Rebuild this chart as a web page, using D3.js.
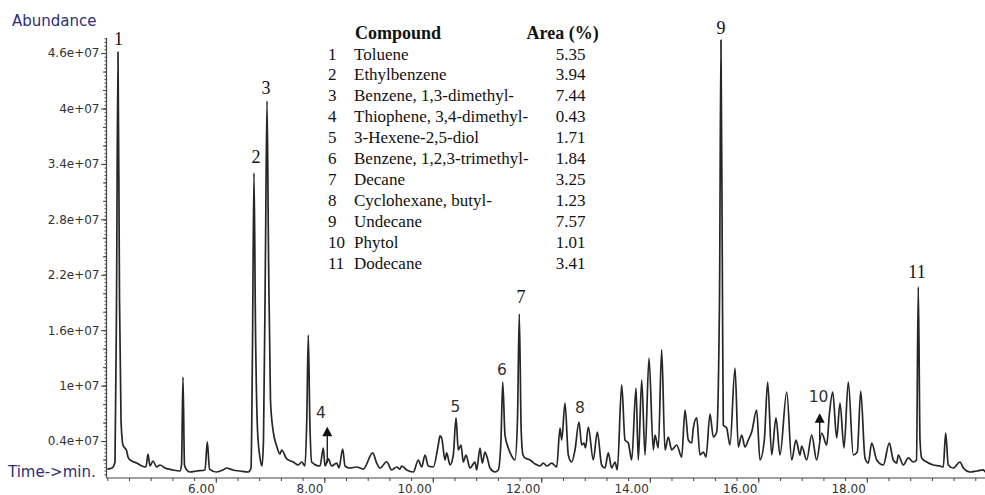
<!DOCTYPE html>
<html>
<head>
<meta charset="utf-8">
<script src="https://cdn.jsdelivr.net/npm/d3@7"></script>
<style>
  body { margin: 0; background: #fff; }
  svg { display: block; }
</style>
</head>
<body>
<svg id="chart"></svg>
<script>
// TIC chromatogram: retention time (min) / abundance (x1e6 counts)
const retentionTime = [
  4.000, 4.087, 4.142, 4.170, 4.197, 4.225, 4.253, 4.289, 4.358, 4.382,
  4.418, 4.542, 4.634, 4.713, 4.750, 4.787, 4.842, 4.911, 4.971, 5.064,
  5.211, 5.340, 5.368, 5.395, 5.423, 5.464, 5.524, 5.648, 5.801, 5.843,
  5.884, 6.017, 6.133, 6.201, 6.262, 6.317, 6.446, 6.599, 6.649, 6.676,
  6.704, 6.732, 6.769, 6.815, 6.852, 6.879, 6.916, 6.944, 6.971, 7.008,
  7.054, 7.123, 7.183, 7.215, 7.307, 7.429, 7.521, 7.583, 7.644, 7.677,
  7.705, 7.733, 7.768, 7.921, 7.982, 8.013, 8.074, 8.136, 8.229, 8.271,
  8.339, 8.382, 8.474, 8.597, 8.719, 8.892, 8.966, 9.027, 9.150, 9.242,
  9.335, 9.395, 9.427, 9.519, 9.641, 9.733, 9.795, 9.856, 9.917, 10.009,
  10.101, 10.133, 10.164, 10.225, 10.256, 10.317, 10.378, 10.428, 10.470, 10.520,
  10.562, 10.612, 10.686, 10.778, 10.809, 10.870, 10.912, 10.962, 11.005, 11.054,
  11.147, 11.207, 11.257, 11.289, 11.331, 11.392, 11.454, 11.515, 11.561, 11.594,
  11.629, 11.663, 11.700, 11.792, 11.884, 11.976, 12.037, 12.100, 12.192, 12.284,
  12.345, 12.376, 12.437, 12.498, 12.560, 12.621, 12.695, 12.745, 12.787, 12.815,
  12.866, 12.959, 13.032, 13.113, 13.174, 13.235, 13.297, 13.359, 13.401, 13.482,
  13.543, 13.604, 13.666, 13.746, 13.788, 13.851, 13.912, 13.985, 14.065, 14.096,
  14.157, 14.219, 14.280, 14.341, 14.404, 14.496, 14.588, 14.649, 14.710, 14.773,
  14.802, 14.865, 14.925, 14.986, 15.036, 15.110, 15.171, 15.233, 15.285, 15.312,
  15.340, 15.355, 15.417, 15.478, 15.571, 15.631, 15.694, 15.755, 15.816, 15.878,
  15.970, 16.031, 16.111, 16.173, 16.247, 16.326, 16.400, 16.524, 16.616, 16.695,
  16.769, 16.800, 16.892, 16.984, 17.076, 17.169, 17.261, 17.309, 17.372, 17.445,
  17.506, 17.580, 17.659, 17.751, 17.825, 17.888, 17.967, 18.028, 18.090, 18.183,
  18.304, 18.415, 18.488, 18.551, 18.581, 18.673, 18.765, 18.857, 18.916, 18.949,
  18.981, 19.012, 19.104, 19.226, 19.349, 19.410, 19.454, 19.502, 19.594, 19.718,
  19.779, 19.902, 20.026, 20.147, 20.179
];
const abundance = [
  0.97, 1.08, 1.73, 19.27, 46.11, 19.27, 6.28, 3.57, 2.92, 2.27,
  1.95, 1.62, 1.30, 1.19, 2.60, 1.30, 1.84, 1.19, 1.41, 1.08,
  0.87, 0.76, 1.41, 10.93, 1.41, 0.87, 0.65, 0.76, 0.87, 3.90,
  0.97, 0.65, 0.87, 1.08, 0.97, 0.87, 0.76, 0.65, 1.08, 13.86,
  33.02, 16.02, 5.20, 2.17, 1.30, 4.11, 24.68, 40.81, 24.68, 8.44,
  5.20, 3.46, 2.60, 3.03, 2.06, 1.73, 1.41, 1.73, 1.30, 6.28,
  15.48, 6.28, 1.73, 1.30, 3.25, 1.30, 2.06, 1.30, 1.62, 1.08,
  3.14, 1.30, 1.08, 1.19, 0.97, 2.71, 1.62, 1.08, 1.76, 0.87,
  1.19, 0.97, 1.30, 0.87, 0.65, 1.95, 1.19, 2.49, 1.30, 1.19,
  3.57, 4.55, 4.33, 1.95, 2.71, 1.41, 2.49, 6.50, 3.03, 3.57,
  1.73, 2.49, 1.08, 1.73, 0.87, 3.25, 1.62, 2.81, 2.17, 1.08,
  0.65, 0.87, 4.11, 10.39, 4.65, 3.25, 2.38, 1.95, 6.28, 17.75,
  5.20, 2.49, 2.17, 1.95, 1.52, 1.30, 1.62, 1.30, 1.62, 1.19,
  5.41, 4.11, 8.12, 2.49, 1.73, 3.03, 6.06, 3.57, 3.79, 3.25,
  5.52, 1.95, 4.98, 1.41, 1.08, 2.71, 1.08, 1.73, 0.87, 10.07,
  4.11, 3.79, 1.95, 9.74, 1.95, 10.61, 2.49, 12.99, 3.03, 4.65,
  3.25, 13.86, 3.03, 4.44, 3.03, 3.57, 2.27, 7.36, 4.11, 3.79,
  5.41, 6.50, 2.49, 2.81, 2.27, 6.93, 4.44, 4.98, 19.27, 47.41,
  19.27, 5.74, 5.41, 3.57, 11.91, 3.36, 4.65, 3.36, 4.11, 4.98,
  7.36, 1.95, 4.11, 10.39, 2.49, 6.50, 2.49, 9.31, 1.95, 4.11,
  2.49, 3.46, 1.95, 4.65, 1.95, 4.87, 3.57, 6.82, 9.31, 4.33,
  8.12, 3.25, 10.39, 2.49, 2.81, 9.42, 2.17, 1.62, 3.79, 1.95,
  1.41, 3.79, 1.95, 1.62, 2.49, 1.41, 2.17, 1.73, 1.95, 20.68,
  4.11, 2.17, 1.73, 1.41, 1.30, 1.19, 4.87, 1.41, 1.08, 1.73,
  1.08, 0.65, 0.76, 0.87, 0.65
];

const yTickValues = [4, 10, 16, 22, 28, 34, 40, 46];
const yTickLabels = ["0.4e+07", "1e+07", "1.6e+07", "2.2e+07", "2.8e+07", "3.4e+07", "4e+07", "4.6e+07"];
const xTickValues = [6, 8, 10, 12, 14, 16, 18];
const xTickLabels = ["6.00", "8.00", "10.00", "12.00", "14.00", "16.00", "18.00"];

// peak numbers and where their labels sit (time, abundance)
const peakIds = ["1", "2", "3", "4", "5", "6", "7", "8", "9", "10", "11"];
const peakLabelTime = [4.206, 6.741, 6.925, 7.939, 10.418, 11.276, 11.626, 12.713, 15.312, 17.110, 18.925];
const peakLabelAbundance = [46.87, 34.10, 41.57, 6.49, 7.14, 11.15, 18.94, 7.04, 48.06, 8.23, 21.65];

// arrows for the small peaks 4 and 10
const arrowIds = ["4", "10"];
const arrowTime = [8.055, 17.132];
const arrowTip = [5.55, 7.00];
const arrowTail = [1.62, 4.11];

// compound table
const compoundNames = [
  "Toluene", "Ethylbenzene", "Benzene, 1,3-dimethyl-", "Thiophene, 3,4-dimethyl-",
  "3-Hexene-2,5-diol", "Benzene, 1,2,3-trimethyl-", "Decane", "Cyclohexane, butyl-",
  "Undecane", "Phytol", "Dodecane"
];
const areaPercent = ["5.35", "3.94", "7.44", "0.43", "1.71", "1.84", "3.25", "1.23", "7.57", "1.01", "3.41"];

const width = 985, height = 495;
const axisX = 106.5, axisY = 478, axisTop = 38;
const sans = "'DejaVu Sans', Verdana, sans-serif";
const serif = "'Liberation Serif', 'Times New Roman', serif";
const navy = "#2e2e78";

const svg = d3.select("#chart").attr("width", width).attr("height", height);
svg.append("rect").attr("width", width).attr("height", height).attr("fill", "#fff");

const x = d3.scaleLinear().domain([4, 20.179]).range([107.3, 985]);
const y = d3.scaleLinear().domain([0, 47.63]).range([axisY, axisTop]);

// y axis: minor / medium / major ticks
const gy = svg.append("g").attr("transform", `translate(${axisX},0)`);
gy.append("g")
  .call(d3.axisLeft(y).tickValues(d3.range(1, 120).map((k) => k * 0.4)).tickSize(2).tickFormat(""))
  .call((g) => g.select(".domain").remove());
gy.append("g")
  .call(d3.axisLeft(y).tickValues(d3.range(1, 24).map((k) => k * 2)).tickSize(3.5).tickFormat(""))
  .call((g) => g.select(".domain").remove());
gy.append("g")
  .call(d3.axisLeft(y).tickValues(yTickValues).tickSize(5.5).tickPadding(1.5)
    .tickFormat((d, i) => yTickLabels[i]))
  .call((g) => g.select(".domain").remove());
gy.selectAll("line").attr("stroke", "#444");
gy.selectAll("text").attr("font-family", sans).attr("font-size", 12).attr("fill", "#333");
gy.append("line").attr("y1", axisTop).attr("y2", axisY).attr("stroke", "#444").attr("stroke-width", 1.2);

// x axis
const gx = svg.append("g").attr("transform", `translate(0,${axisY})`);
gx.append("g")
  .call(d3.axisBottom(x).tickValues(d3.range(0, 41).map((k) => 4 + k * 0.4)).tickSize(3).tickFormat(""))
  .call((g) => g.select(".domain").remove());
gx.append("g")
  .call(d3.axisBottom(x).tickValues(xTickValues).tickSize(5).tickPadding(1)
    .tickFormat((d, i) => xTickLabels[i]))
  .call((g) => g.select(".domain").remove());
gx.selectAll("line").attr("stroke", "#444");
gx.selectAll("text")
  .attr("font-family", sans).attr("font-size", 12).attr("fill", "#333")
  .attr("text-anchor", "end").attr("x", -1.5);
gx.append("line").attr("x1", axisX).attr("x2", width).attr("stroke", "#444").attr("stroke-width", 1.2);

// axis titles
svg.append("text").attr("x", 12).attr("y", 26).text("Abundance")
  .attr("font-family", sans).attr("font-size", 15).attr("fill", navy);
svg.append("text").attr("x", 8).attr("y", 477).text("Time->min.")
  .attr("font-family", sans).attr("font-size", 15).attr("fill", navy);

// trace
const line = d3.line()
  .x((d, i) => x(retentionTime[i]))
  .y((d) => y(d))
  .curve(d3.curveMonotoneX);
svg.append("path")
  .datum(abundance)
  .attr("d", line)
  .attr("fill", "none")
  .attr("stroke", "#262626")
  .attr("stroke-width", 1.7)
  .attr("stroke-linejoin", "round");

// peak labels
const sansIds = new Set(["4", "5", "6", "8", "10"]);
svg.append("g").selectAll("text")
  .data(peakIds)
  .join("text")
  .attr("x", (d, i) => x(peakLabelTime[i]))
  .attr("y", (d, i) => y(peakLabelAbundance[i]))
  .attr("text-anchor", "middle")
  .attr("font-family", (d) => (sansIds.has(d) ? sans : serif))
  .attr("font-size", (d) => (sansIds.has(d) ? 15.5 : 18))
  .attr("fill", (d) => (sansIds.has(d) ? "#333" : "#111"))
  .text((d) => d);

// arrows
const ga = svg.append("g");
arrowIds.forEach((id, i) => {
  const ax = x(arrowTime[i]), ty = y(arrowTip[i]);
  ga.append("line")
    .attr("x1", ax).attr("x2", ax)
    .attr("y1", ty + 8).attr("y2", y(arrowTail[i]))
    .attr("stroke", "#222").attr("stroke-width", 1.4);
  ga.append("path")
    .attr("d", `M${ax},${ty}L${ax + 5},${ty + 9.5}L${ax - 5},${ty + 9.5}Z`)
    .attr("fill", "#111");
});

// compound table
const table = svg.append("g").attr("font-family", serif).attr("fill", "#111");
table.append("text").attr("x", 355).attr("y", 38.5).attr("font-size", 18)
  .attr("font-weight", "bold").text("Compound");
table.append("text").attr("x", 526.5).attr("y", 38.5).attr("font-size", 18)
  .attr("font-weight", "bold").text("Area (%)");
const rows = table.selectAll("g.row")
  .data(compoundNames)
  .join("g")
  .attr("class", "row")
  .attr("transform", (d, i) => `translate(0,${59.5 + i * 20.9})`)
  .attr("font-size", 17);
rows.append("text").attr("x", 328).text((d, i) => i + 1);
rows.append("text").attr("x", 354).text((d) => d);
rows.append("text").attr("x", 585.5).attr("text-anchor", "end").text((d, i) => areaPercent[i]);
</script>
</body>
</html>
